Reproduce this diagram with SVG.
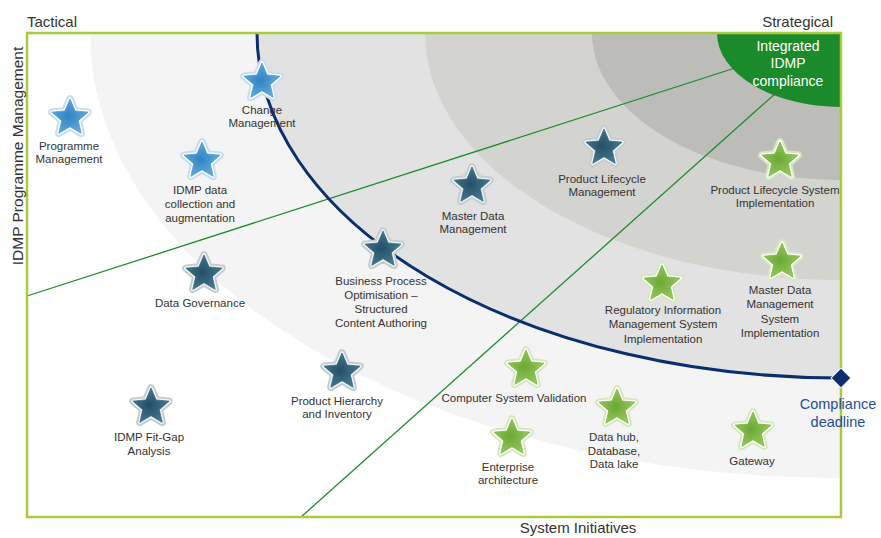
<svg xmlns="http://www.w3.org/2000/svg" xmlns:xlink="http://www.w3.org/1999/xlink" width="881" height="538" viewBox="0 0 881 538">
<style>
.lbl{font-family:"Liberation Sans",Arial,sans-serif;font-size:11.5px;fill:#333333;text-anchor:middle}
.axis{font-family:"Liberation Sans",Arial,sans-serif;font-size:15px;fill:#333}
.wht{font-family:"Liberation Sans",Arial,sans-serif;font-size:14px;fill:#ffffff;text-anchor:middle}
.dl{font-family:"Liberation Sans",Arial,sans-serif;font-size:14.5px;fill:#1f4e9a;text-anchor:middle}
.gl{stroke:#1e8c2e;stroke-width:1.3;fill:none}
</style>
<defs>
<clipPath id="frameClip"><rect x="27" y="33" width="814" height="484"/></clipPath>
<radialGradient id="gb" cx="0.45" cy="0.5" r="0.6"><stop offset="0" stop-color="#2f83c4"/><stop offset="1" stop-color="#6cb0dc"/></radialGradient>
<radialGradient id="gd" cx="0.45" cy="0.5" r="0.6"><stop offset="0" stop-color="#234f66"/><stop offset="1" stop-color="#4a7e96"/></radialGradient>
<radialGradient id="gg" cx="0.45" cy="0.5" r="0.6"><stop offset="0" stop-color="#6aa834"/><stop offset="1" stop-color="#9ccc64"/></radialGradient>
<path id="sp" d="M0,-19 L5.11,-7.03 L18.07,-5.87 L8.27,2.69 L11.17,15.37 L0,8.7 L-11.17,15.37 L-8.27,2.69 L-18.07,-5.87 L-5.11,-7.03 Z" stroke-linejoin="round"/>
<g id="star-b"><use xlink:href="#sp" fill="none" stroke="#c6def0" stroke-width="7.5"/><use xlink:href="#sp" fill="none" stroke="#ffffff" stroke-width="3.5"/><use xlink:href="#sp" fill="url(#gb)" stroke="#4f9bd0" stroke-width="0.8"/></g>
<g id="star-d"><use xlink:href="#sp" fill="none" stroke="#c4cdd1" stroke-width="7.5"/><use xlink:href="#sp" fill="none" stroke="#f4f6f6" stroke-width="3.5"/><use xlink:href="#sp" fill="url(#gd)" stroke="#3a6a80" stroke-width="0.8"/></g>
<g id="star-g"><use xlink:href="#sp" fill="none" stroke="#d6e8c0" stroke-width="7.5"/><use xlink:href="#sp" fill="none" stroke="#ffffff" stroke-width="3.5"/><use xlink:href="#sp" fill="url(#gg)" stroke="#7db547" stroke-width="0.8"/></g>
</defs>
<rect width="881" height="538" fill="#ffffff"/>
<g id="bands" clip-path="url(#frameClip)">
<ellipse cx="841" cy="33" rx="751" ry="445" fill="#f4f4f4"/>
<ellipse cx="841" cy="33" rx="584" ry="345" fill="#e2e2e2"/>
<ellipse cx="841" cy="33" rx="416" ry="247" fill="#d3d3d0"/>
<ellipse cx="841" cy="33" rx="249" ry="147" fill="#bcbcb9"/>
</g>
<g id="connectors">
<line class="gl" x1="27" y1="296" x2="735" y2="68"/>
<line class="gl" x1="301" y1="517" x2="776" y2="93"/>
<path d="M257,33 A584,345 0 0 0 841,378" fill="none" stroke="#0b2f6e" stroke-width="3"/>
</g>
<g id="integrated" clip-path="url(#frameClip)">
<ellipse cx="841" cy="33" rx="124" ry="74" fill="#1a8a2a"/>
</g>
<g id="integrated-label">
<text class="wht" x="788" y="51">Integrated</text>
<text class="wht" x="788" y="68">IDMP</text>
<text class="wht" x="788" y="86">compliance</text>
</g>
<rect id="frame" x="27" y="33" width="814" height="484" fill="none" stroke="#a9cb3c" stroke-width="2.5"/>
<g id="axes">
<text class="axis" x="27" y="27">Tactical</text>
<text class="axis" x="833" y="27" text-anchor="end">Strategical</text>
<text class="axis" x="578" y="533" text-anchor="middle">System Initiatives</text>
<text class="axis" transform="translate(23,156) rotate(-90)" text-anchor="middle" style="font-size:15.5px">IDMP Programme Management</text>
</g>
<g id="compliance-deadline">
<rect x="834" y="371" width="14" height="14" transform="rotate(45 841 378)" fill="#0b2f6e" stroke="#ffffff" stroke-width="1"/>
<text class="dl" x="838" y="409">Compliance</text>
<text class="dl" x="838" y="427">deadline</text>
</g>
<g id="programme-management"><use xlink:href="#star-b" x="70" y="118"/><text class="lbl" x="69" y="150">Programme</text><text class="lbl" x="69" y="163">Management</text></g>
<g id="change-management"><use xlink:href="#star-b" x="262" y="82"/><text class="lbl" x="262" y="114">Change</text><text class="lbl" x="262" y="127">Management</text></g>
<g id="idmp-data"><use xlink:href="#star-b" x="202" y="161"/><text class="lbl" x="200" y="194">IDMP data</text><text class="lbl" x="200" y="208">collection and</text><text class="lbl" x="200" y="222">augmentation</text></g>
<g id="data-governance"><use xlink:href="#star-d" x="204" y="274"/><text class="lbl" x="200" y="307">Data Governance</text></g>
<g id="master-data-management"><use xlink:href="#star-d" x="472" y="186"/><text class="lbl" x="473" y="220">Master Data</text><text class="lbl" x="473" y="233">Management</text></g>
<g id="product-lifecycle-management"><use xlink:href="#star-d" x="604" y="148"/><text class="lbl" x="602" y="183">Product Lifecycle</text><text class="lbl" x="602" y="196">Management</text></g>
<g id="product-lifecycle-system"><use xlink:href="#star-g" x="780" y="161"/><text class="lbl" x="775" y="194">Product Lifecycle System</text><text class="lbl" x="775" y="207">Implementation</text></g>
<g id="business-process"><use xlink:href="#star-d" x="383" y="250"/><text class="lbl" x="381" y="285">Business Process</text><text class="lbl" x="381" y="299">Optimisation –</text><text class="lbl" x="381" y="313">Structured</text><text class="lbl" x="381" y="327">Content Authoring</text></g>
<g id="rim-system"><use xlink:href="#star-g" x="662" y="284"/><text class="lbl" x="663" y="314">Regulatory Information</text><text class="lbl" x="663" y="328">Management System</text><text class="lbl" x="663" y="343">Implementation</text></g>
<g id="mdm-system"><use xlink:href="#star-g" x="782" y="262"/><text class="lbl" x="780" y="294">Master Data</text><text class="lbl" x="780" y="308">Management</text><text class="lbl" x="780" y="323">System</text><text class="lbl" x="780" y="337">Implementation</text></g>
<g id="product-hierarchy"><use xlink:href="#star-d" x="342" y="372"/><text class="lbl" x="337" y="405">Product Hierarchy</text><text class="lbl" x="337" y="418">and Inventory</text></g>
<g id="fit-gap"><use xlink:href="#star-d" x="151" y="407"/><text class="lbl" x="149" y="441">IDMP Fit-Gap</text><text class="lbl" x="149" y="455">Analysis</text></g>
<g id="csv"><use xlink:href="#star-g" x="526" y="369"/><text class="lbl" x="514" y="402">Computer System Validation</text></g>
<g id="enterprise-architecture"><use xlink:href="#star-g" x="512" y="438"/><text class="lbl" x="508" y="471">Enterprise</text><text class="lbl" x="508" y="484">architecture</text></g>
<g id="data-hub"><use xlink:href="#star-g" x="617" y="408"/><text class="lbl" x="614" y="441">Data hub,</text><text class="lbl" x="614" y="455">Database,</text><text class="lbl" x="614" y="468">Data lake</text></g>
<g id="gateway"><use xlink:href="#star-g" x="753" y="431"/><text class="lbl" x="752" y="465">Gateway</text></g>
</svg>
